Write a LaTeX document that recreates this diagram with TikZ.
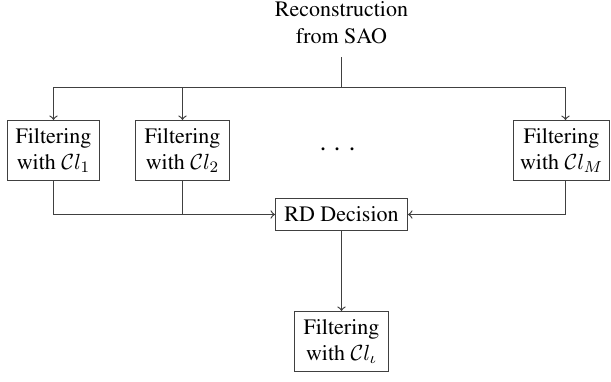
\documentclass[tikz,border=0pt]{standalone}
\usepackage[T1]{fontenc}
\usepackage{times}
\begin{document}
\begin{tikzpicture}[x=0.5pt,y=-0.5pt,
  line width=0.6pt, draw=black!75,
  every node/.style={font=\fontsize{11}{13.2}\selectfont},
  filt/.style={draw=black!75, align=center, inner sep=0pt, minimum width=46pt, minimum height=30pt},
  arr/.style={->}]
\useasboundingbox (0,0) rectangle (611,381);
\node[align=center, inner xsep=0pt, inner ysep=6.5pt, anchor=south] (src) at (341.5,57) {Reconstruction\\from SAO};
\coordinate (split) at (341.5,87.5);
\node[filt] (f1) at (53.5,150.5) {Filtering\\with $\mathcal{C}l_1$};
\node[filt, minimum width=47pt] (f2) at (182.5,150.5) {Filtering\\with $\mathcal{C}l_2$};
\node[filt, minimum width=48pt] (fM) at (561.5,150.5) {Filtering\\with $\mathcal{C}l_M$};
\coordinate (mtop) at (565.5,120);
\coordinate (mbot) at (565.5,181);
\node[font=\fontsize{15}{15}\selectfont] (dots) at (338,150) {$\cdot$\hspace{3.3pt}$\cdot$\hspace{3.3pt}$\cdot$};
\node[draw=black!75, inner sep=0pt, minimum width=66pt, minimum height=16pt] (rd) at (341.5,214.5) {RD Decision};
\node[filt, minimum width=47pt] (out) at (341.5,341.5) {Filtering\\with $\mathcal{C}l_\iota$};
\draw (src.south) -- (split);
\draw[arr] (split) -| (f1.north);
\draw[arr] (split) -| (f2.north);
\draw[arr] (split) -| (mtop);
\draw[arr] (f1.south) |- (rd.west);
\draw (f2.south) -- (f2.south |- rd.west);
\draw[arr] (mbot) |- (rd.east);
\draw[arr] (rd.south) -- (out.north);
\end{tikzpicture}
\end{document}
